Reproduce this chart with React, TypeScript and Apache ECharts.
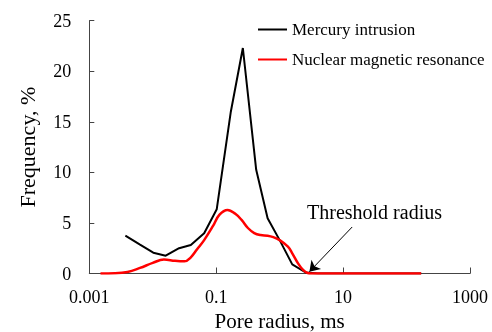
import React, { useEffect, useRef } from "react";
import * as echarts from "echarts";

const mercuryRadius = [0.0037, 0.0063, 0.0102, 0.016, 0.026, 0.0398, 0.0646, 0.102, 0.17, 0.263, 0.427, 0.646, 1.0, 1.58, 2.57, 4.0, 10, 40, 170];
const mercuryFreq = [3.74, 2.85, 2.06, 1.76, 2.5, 2.82, 3.98, 6.36, 16.0, 22.3, 10.25, 5.47, 3.3, 0.9, 0.1, 0, 0, 0, 0];

const nmrRadius = [0.0015, 0.0025, 0.004, 0.0063, 0.01, 0.015, 0.0224, 0.0316, 0.0398, 0.05, 0.0646, 0.0891, 0.112, 0.151, 0.2, 0.251, 0.316, 0.398, 0.501, 0.646, 0.794, 1.0, 1.35, 1.58, 1.95, 2.34, 2.75, 3.16, 10, 170];
const nmrFreq = [0, 0.02, 0.15, 0.55, 1.05, 1.38, 1.25, 1.2, 1.6, 2.4, 3.3, 4.7, 5.8, 6.29, 5.9, 5.3, 4.5, 4.0, 3.8, 3.74, 3.6, 3.3, 2.65, 2.0, 1.0, 0.35, 0.05, 0, 0, 0];

const xTickLabels = ["0.001", "0.1", "10", "1000"];
const seriesNames = ["Mercury intrusion", "Nuclear magnetic resonance"];
const annotationText = "Threshold radius";
const arrowFrom = [13.9, 4.6];
const arrowTo = [2.94, 0.18];

const FONT = "'Liberation Serif', 'Times New Roman', serif";

export default function App() {
  const ref = useRef<HTMLDivElement>(null);
  useEffect(() => {
    if (!ref.current) return;
    const chart = echarts.init(ref.current, undefined, { renderer: "svg" });
    const zip = (xs: number[], ys: number[]) => xs.map((x, i) => [x, ys[i]]);
    chart.setOption({
      animation: false,
      textStyle: { fontFamily: FONT },
      grid: { left: 89.3, right: 22, top: 20.7, bottom: 58.5, containLabel: false, outerBoundsMode: "none" },
      legend: {
        orient: "vertical",
        left: 258,
        top: 21,
        padding: 0,
        icon: "rect",
        itemWidth: 29,
        itemHeight: 2,
        itemGap: 13,
        textStyle: { fontFamily: FONT, fontSize: 17, color: "#000" },
        data: seriesNames,
      },
      xAxis: {
        type: "log",
        logBase: 10,
        min: 0.001,
        max: 1000,
        interval: 2,
        name: "Pore radius, ms",
        nameLocation: "middle",
        nameGap: 36,
        nameTextStyle: { fontFamily: FONT, fontSize: 21, color: "#000" },
        axisLine: { lineStyle: { color: "#444", width: 1 } },
        axisTick: { inside: true, length: 6, lineStyle: { color: "#444" } },
        minorTick: { show: false },
        splitLine: { show: false },
        axisLabel: {
          fontFamily: FONT,
          fontSize: 18,
          color: "#000",
          margin: 14,
          formatter: (v: number) => {
            const idx = Math.round((Math.log10(v) + 3) / 2);
            return xTickLabels[idx] ?? "";
          },
        },
      },
      yAxis: {
        type: "value",
        min: 0,
        max: 25,
        interval: 5,
        name: "Frequency, %",
        nameLocation: "middle",
        nameGap: 51,
        nameTextStyle: { fontFamily: FONT, fontSize: 22, color: "#000" },
        axisLine: { show: true, lineStyle: { color: "#444", width: 1 } },
        axisTick: { show: true, inside: true, length: 5, lineStyle: { color: "#444" } },
        splitLine: { show: false },
        axisLabel: { fontFamily: FONT, fontSize: 18, color: "#000", margin: 18 },
      },
      series: [
        {
          name: seriesNames[0],
          type: "line",
          data: zip(mercuryRadius, mercuryFreq),
          symbol: "none",
          lineStyle: { color: "#000", width: 2 },
          itemStyle: { color: "#000" },
          z: 3,
          markLine: {
            silent: true,
            symbol: ["none", "arrow"],
            symbolSize: 10,
            lineStyle: { color: "#000", width: 1, type: "solid" },
            itemStyle: { color: "#000" },
            label: { show: false },
            data: [[{ coord: arrowFrom }, { coord: arrowTo }]],
          },
        },
        {
          name: seriesNames[1],
          type: "line",
          data: zip(nmrRadius, nmrFreq),
          symbol: "none",
          smooth: 0.4,
          lineStyle: { color: "#ff0000", width: 2.5 },
          itemStyle: { color: "#ff0000" },
          z: 4,
        },
      ],
      graphic: [
        {
          type: "text",
          left: 307,
          top: 202,
          style: { text: annotationText, fontFamily: FONT, fontSize: 20, fill: "#000" },
        },
      ],
    });
    return () => chart.dispose();
  }, []);
  return <div ref={ref} style={{ position: "fixed", left: 0, top: 0, width: 492, height: 332 }} />;
}
